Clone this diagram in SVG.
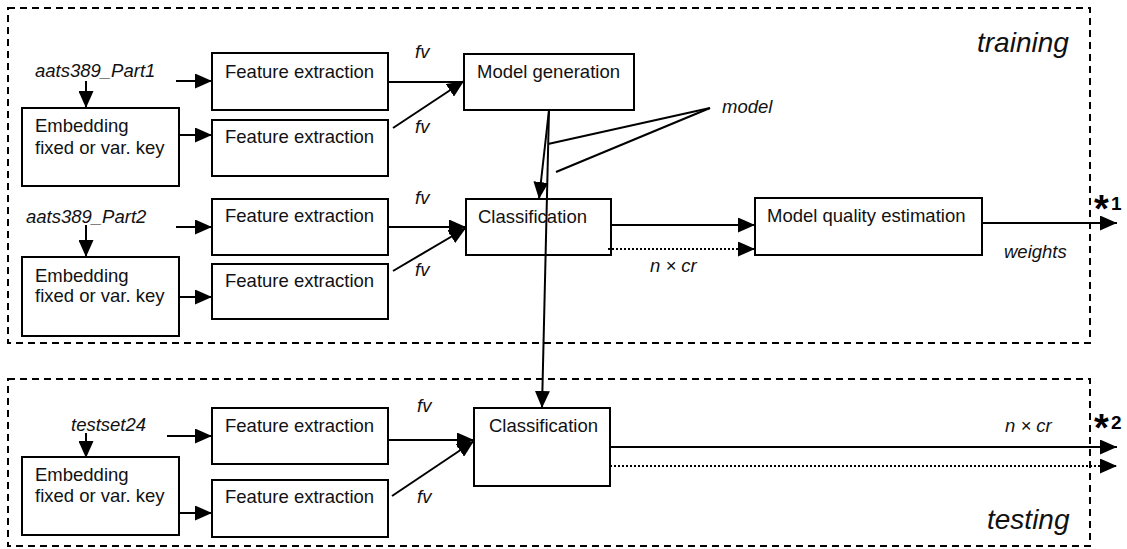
<svg xmlns="http://www.w3.org/2000/svg" width="1127" height="549" viewBox="0 0 1127 549">
<style>
.box{fill:#fff;stroke:#000;stroke-width:2}
.frame{fill:none;stroke:#000;stroke-width:2;stroke-dasharray:7 5}
.t{font-family:"Liberation Sans",Arial,sans-serif;font-size:18.5px;fill:#111}
.i{font-family:"Liberation Sans",Arial,sans-serif;font-size:18.5px;font-style:italic;fill:#111}
.big{font-family:"Liberation Sans",Arial,sans-serif;font-size:28px;font-style:italic;fill:#111}
.b{font-family:"Liberation Sans",Arial,sans-serif;font-weight:bold;fill:#000}
.c{fill:none;stroke:#000;stroke-width:2}
.d{fill:none;stroke:#000;stroke-width:2;stroke-dasharray:2 2}
</style>
<defs>
<marker id="ah" markerUnits="userSpaceOnUse" markerWidth="17" markerHeight="15" refX="17" refY="7.5" orient="auto" viewBox="0 0 17 15">
<path d="M0,0 L17,7.5 L0,15 z" fill="#000"/>
</marker>
</defs>

<g id="training-frame">
<rect class="frame" x="8" y="8" width="1082" height="335"/>
<text class="big" x="977" y="52">training</text>
</g>
<g id="testing-frame">
<rect class="frame" x="8" y="379" width="1082" height="167"/>
<text class="big" x="987" y="529">testing</text>
</g>

<g id="connectors">
<line class="c" x1="86" y1="81" x2="86" y2="108" marker-end="url(#ah)"/>
<line class="c" x1="176" y1="81" x2="212" y2="81" marker-end="url(#ah)"/>
<line class="c" x1="176" y1="135" x2="212" y2="135" marker-end="url(#ah)"/>
<line class="c" x1="388" y1="82" x2="464" y2="82"/>
<line class="c" x1="393" y1="128" x2="464" y2="81" marker-end="url(#ah)"/>
<line class="c" x1="549" y1="110" x2="539" y2="199" marker-end="url(#ah)"/>
<line class="c" x1="549" y1="110" x2="542" y2="408" marker-end="url(#ah)"/>
<line class="c" x1="710" y1="108" x2="548" y2="144"/>
<line class="c" x1="710" y1="108" x2="556" y2="172"/>
<line class="c" x1="86" y1="225" x2="86" y2="257" marker-end="url(#ah)"/>
<line class="c" x1="176" y1="227" x2="212" y2="227" marker-end="url(#ah)"/>
<line class="c" x1="176" y1="297" x2="212" y2="297" marker-end="url(#ah)"/>
<line class="c" x1="388" y1="227" x2="466" y2="227" marker-end="url(#ah)"/>
<line class="c" x1="393" y1="271" x2="466" y2="228" marker-end="url(#ah)"/>
<line class="c" x1="611" y1="225" x2="755" y2="225" marker-end="url(#ah)"/>
<line class="d" x1="608" y1="249" x2="755" y2="249" marker-end="url(#ah)"/>
<line class="c" x1="983" y1="223" x2="1117" y2="223" marker-end="url(#ah)"/>
<line class="c" x1="86" y1="433" x2="86" y2="458" marker-end="url(#ah)"/>
<line class="c" x1="167" y1="436" x2="212" y2="436" marker-end="url(#ah)"/>
<line class="c" x1="176" y1="513" x2="212" y2="513" marker-end="url(#ah)"/>
<line class="c" x1="388" y1="440" x2="474" y2="440" marker-end="url(#ah)"/>
<line class="c" x1="392" y1="496" x2="474" y2="441" marker-end="url(#ah)"/>
<line class="c" x1="610" y1="447" x2="1117" y2="447" marker-end="url(#ah)"/>
<line class="d" x1="610" y1="466" x2="1117" y2="466" marker-end="url(#ah)"/>
</g>

<g id="labels">
<text class="i" x="35" y="77">aats389_Part1</text>
<text class="i" x="26" y="223">aats389_Part2</text>
<text class="i" x="71" y="431">testset24</text>
<text class="i" x="415" y="58">fv</text>
<text class="i" x="415" y="133">fv</text>
<text class="i" x="415" y="204">fv</text>
<text class="i" x="415" y="276">fv</text>
<text class="i" x="417" y="412">fv</text>
<text class="i" x="417" y="503">fv</text>
<text class="i" x="722" y="113">model</text>
<text class="i" x="650" y="272">n × cr</text>
<text class="i" x="1004" y="258">weights</text>
<text class="i" x="1005" y="432">n × cr</text>
<text class="b" x="1094" y="222" font-size="38">*</text>
<text class="b" x="1111" y="210" font-size="19">1</text>
<text class="b" x="1094" y="441" font-size="38">*</text>
<text class="b" x="1111" y="429" font-size="19">2</text>
</g>

<g id="emb1">
<rect class="box" x="22" y="108" width="157" height="78"/>
<text class="t" x="35" y="132">Embedding</text>
<text class="t" x="35" y="154">fixed or var. key</text>
</g>
<g id="fe1">
<rect class="box" x="212" y="53" width="176" height="57"/>
<text class="t" x="225" y="78">Feature extraction</text>
</g>
<g id="fe2">
<rect class="box" x="212" y="120" width="176" height="56"/>
<text class="t" x="225" y="143">Feature extraction</text>
</g>
<g id="modelgen">
<rect class="box" x="464" y="54" width="170" height="56"/>
<text class="t" x="477" y="78">Model generation</text>
</g>
<g id="emb2">
<rect class="box" x="22" y="257" width="157" height="79"/>
<text class="t" x="35" y="282">Embedding</text>
<text class="t" x="35" y="302">fixed or var. key</text>
</g>
<g id="fe3">
<rect class="box" x="212" y="199" width="176" height="56"/>
<text class="t" x="225" y="222">Feature extraction</text>
</g>
<g id="fe4">
<rect class="box" x="212" y="264" width="176" height="55"/>
<text class="t" x="225" y="287">Feature extraction</text>
</g>
<g id="class1">
<rect class="box" x="466" y="199" width="145" height="56" fill-opacity="0"/>
<text class="t" x="478" y="223">Classification</text>
</g>
<g id="mqe">
<rect class="box" x="755" y="198" width="227" height="57"/>
<text class="t" x="767" y="222">Model quality estimation</text>
</g>
<g id="emb3">
<rect class="box" x="22" y="457" width="157" height="78"/>
<text class="t" x="35" y="481">Embedding</text>
<text class="t" x="35" y="502">fixed or var. key</text>
</g>
<g id="fe5">
<rect class="box" x="212" y="408" width="176" height="56"/>
<text class="t" x="225" y="432">Feature extraction</text>
</g>
<g id="fe6">
<rect class="box" x="212" y="480" width="176" height="57"/>
<text class="t" x="225" y="503">Feature extraction</text>
</g>
<g id="class2">
<rect class="box" x="474" y="408" width="136" height="78"/>
<text class="t" x="489" y="432">Classification</text>
</g>
</svg>
